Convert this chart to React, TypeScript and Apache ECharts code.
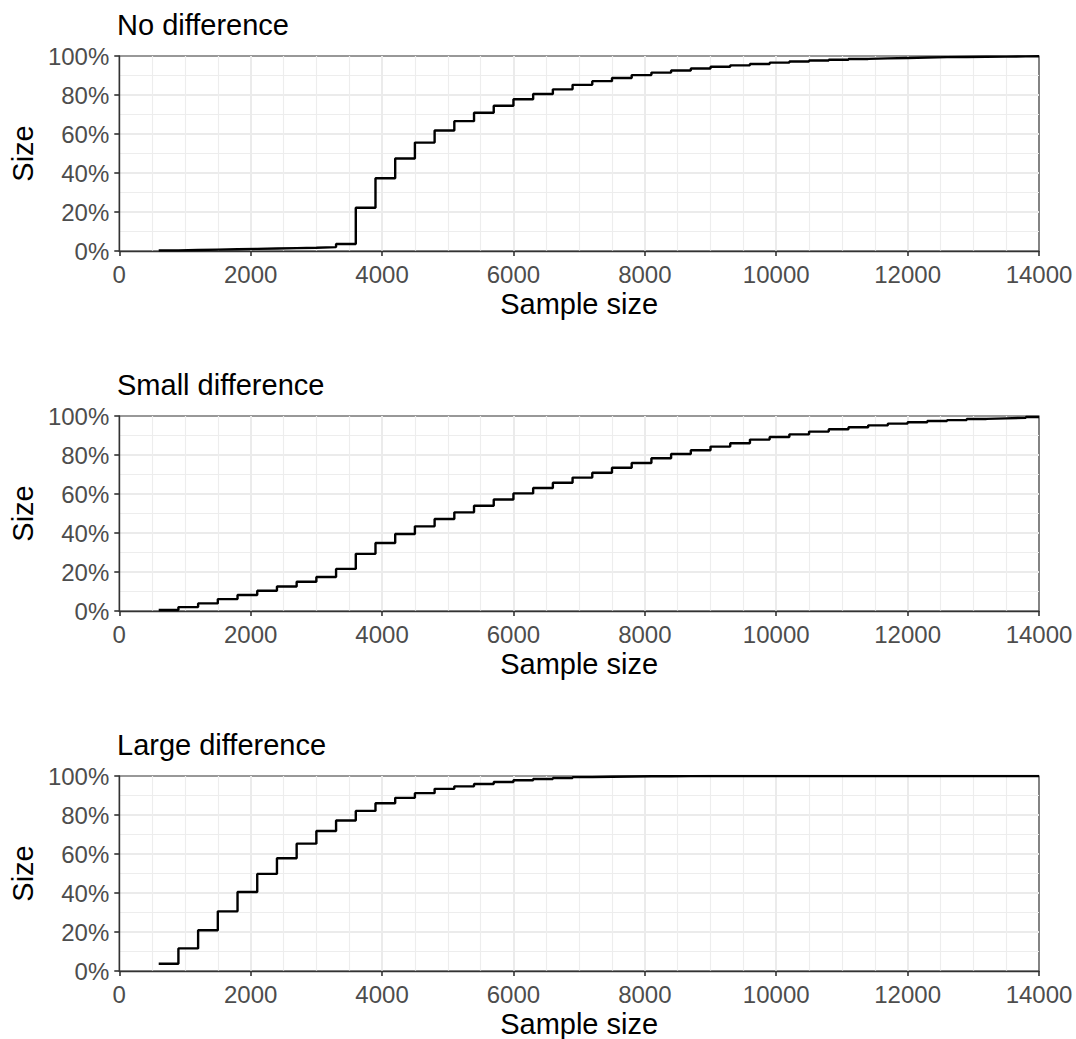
import React, { useEffect, useRef } from "react";
import * as echarts from "echarts";

const panelTitles = ["No difference", "Small difference", "Large difference"];

const sampleSizes = [
  600, 900, 1200, 1500, 1800, 2100, 2400, 2700, 3000, 3300, 3600, 3900, 4200, 4500, 4800,
  5100, 5400, 5700, 6000, 6300, 6600, 6900, 7200, 7500, 7800, 8100, 8400, 8700, 9000, 9300,
  9600, 9900, 10200, 10500, 10800, 11100, 11400, 11700, 12000, 12300, 12600, 12900, 13200,
  13500, 13800, 14000,
];

const noDifference = [
  0.3, 0.5, 0.7, 0.9, 1.1, 1.3, 1.5, 1.7, 2.0, 3.6, 22.2, 37.3, 47.4, 55.6, 61.8,
  66.6, 70.9, 74.5, 77.8, 80.5, 82.9, 85.2, 87.1, 88.7, 90.2, 91.5, 92.6, 93.6, 94.5, 95.2,
  95.9, 96.6, 97.2, 97.7, 98.1, 98.5, 98.8, 99.0, 99.2, 99.4, 99.5, 99.6, 99.7,
  99.8, 99.85, 99.85,
];

const smallDifference = [
  0.5, 2.0, 3.9, 6.1, 8.2, 10.4, 12.6, 15.0, 17.4, 21.6, 29.3, 34.9, 39.5, 43.4, 47.2,
  50.6, 54.0, 57.2, 60.3, 63.1, 65.8, 68.4, 70.9, 73.5, 75.9, 78.3, 80.5, 82.4, 84.3, 86.0,
  87.9, 89.2, 90.6, 92.0, 93.2, 94.2, 95.2, 96.1, 96.8, 97.4, 97.9, 98.5, 98.8,
  99.1, 99.5, 99.5,
];

const largeDifference = [
  3.7, 11.6, 20.9, 30.6, 40.5, 49.8, 57.8, 65.3, 71.8, 77.2, 82.1, 86.0, 88.8, 91.2, 93.4,
  94.7, 95.9, 96.9, 97.8, 98.5, 99.0, 99.4, 99.6, 99.75, 99.85, 99.9, 99.95, 100, 100, 100,
  100, 100, 100, 100, 100, 100, 100, 100, 100, 100, 100, 100, 100,
  100, 100, 100,
];

const xAxisTitle = "Sample size";
const yAxisTitle = "Size";

const FONT = "'Liberation Sans', Arial, Helvetica, sans-serif";

export default function App() {
  const ref = useRef<HTMLDivElement>(null);

  useEffect(() => {
    if (!ref.current) return;
    const chart = echarts.init(ref.current, null, { renderer: "svg" });
    const seriesData = [noDifference, smallDifference, largeDifference];
    const tops = [56, 416, 776];

    const grids = tops.map((t) => ({
      left: 117,
      right: 37,
      top: t,
      height: 195,
      show: true,
      borderColor: "#333333",
      borderWidth: 1.2,
      backgroundColor: "#ffffff",
      containLabel: false,
    }));

    const xAxes = tops.map((_, i) => ({
      type: "value",
      gridIndex: i,
      min: 0,
      max: 14000,
      interval: 2000,
      name: xAxisTitle,
      nameLocation: "middle",
      nameGap: 38,
      nameTextStyle: { fontSize: 29, color: "#000000", fontFamily: FONT },
      axisLine: { show: true, onZero: false, lineStyle: { color: "#333333", width: 1.4 } },
      axisTick: { show: true, length: 5, lineStyle: { color: "#333333", width: 1.6 } },
      axisLabel: {
        fontSize: 24,
        color: "#4D4D4D",
        margin: 11,
        fontFamily: FONT,
        formatter: (v: number) => String(v),
      },
      splitLine: {
        show: true,
        showMinLine: false,
        showMaxLine: false,
        lineStyle: { color: "#EBEBEB", width: 2 },
      },
      minorTick: { show: false, splitNumber: 4 },
      minorSplitLine: { show: true, lineStyle: { color: "#EDEDED", width: 1.2 } },
    }));

    const yAxes = tops.map((_, i) => ({
      type: "value",
      gridIndex: i,
      min: 0,
      max: 100,
      interval: 20,
      name: yAxisTitle,
      nameLocation: "middle",
      nameRotate: 90,
      nameGap: 80,
      nameTextStyle: { fontSize: 29, color: "#000000", fontFamily: FONT },
      axisLine: { show: true, lineStyle: { color: "#333333", width: 1.4 } },
      axisTick: { show: true, length: 5, lineStyle: { color: "#333333", width: 1.6 } },
      axisLabel: {
        fontSize: 24,
        color: "#4D4D4D",
        margin: 10,
        fontFamily: FONT,
        formatter: "{value}%",
      },
      splitLine: {
        show: true,
        showMinLine: false,
        showMaxLine: false,
        lineStyle: { color: "#EBEBEB", width: 2 },
      },
      minorTick: { show: false, splitNumber: 2 },
      minorSplitLine: { show: true, lineStyle: { color: "#EDEDED", width: 1.2 } },
    }));

    const series = seriesData.map((vals, i) => ({
      type: "line",
      name: panelTitles[i],
      xAxisIndex: i,
      yAxisIndex: i,
      step: "end",
      showSymbol: false,
      symbol: "none",
      clip: true,
      lineStyle: { color: "#000000", width: 2.4 },
      data: sampleSizes.map((x, j) => [x, vals[j]]),
      z: 5,
    }));

    const titles = panelTitles.map((t, i) => ({
      text: t,
      left: 117,
      top: tops[i] - 46,
      padding: 0,
      textStyle: { fontSize: 29, fontWeight: "normal", color: "#000000", fontFamily: FONT },
    }));

    chart.setOption({
      animation: false,
      backgroundColor: "#ffffff",
      textStyle: { fontFamily: FONT },
      title: titles,
      grid: grids,
      xAxis: xAxes,
      yAxis: yAxes,
      series,
    });

    return () => chart.dispose();
  }, []);

  return (
    <div
      ref={ref}
      style={{ position: "absolute", left: 0, top: 0, width: 1076, height: 1039 }}
    />
  );
}
